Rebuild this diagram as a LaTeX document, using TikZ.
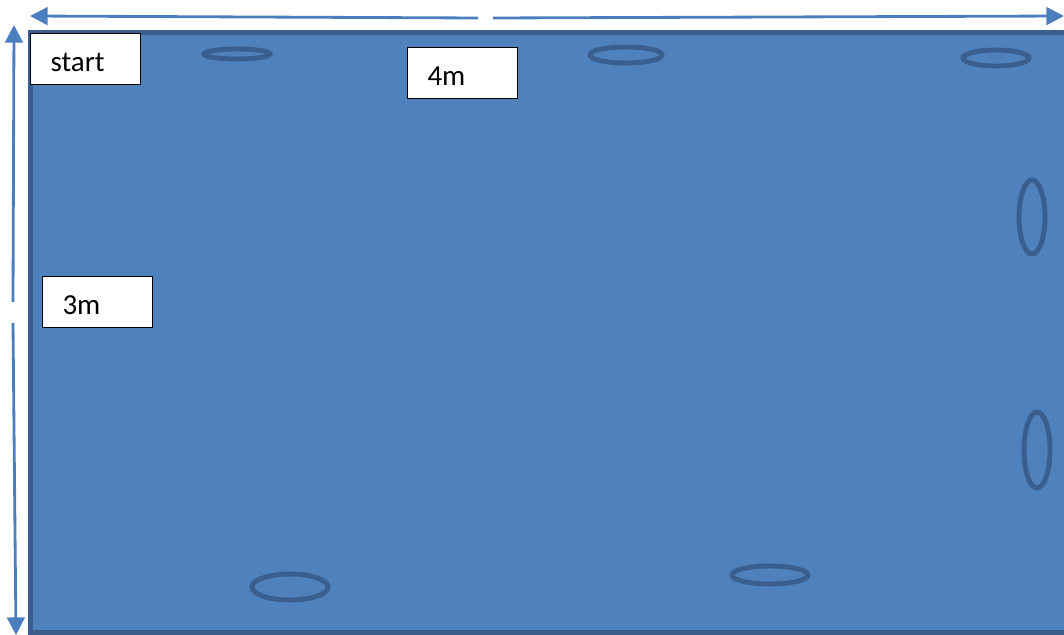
\documentclass[tikz,border=0pt]{standalone}
\usepackage{fontspec}
\setmainfont{Carlito}
\usetikzlibrary{arrows.meta, positioning}
\definecolor{poolblue}{HTML}{4F81BD}
\definecolor{pooledge}{HTML}{3A5F8E}
\definecolor{dimblue}{HTML}{4A7EBF}

\begin{document}
\begin{tikzpicture}[x=0.02cm, y=-0.02cm,
    boxlabel/.style={draw=black, fill=white, line width=0.6pt, minimum width=2.2cm,
        minimum height=1.02cm, inner xsep=0.4cm, text width=1.4cm, align=left,
        text height=14.5pt, text depth=0pt,
        font=\fontsize{16.5}{18}\selectfont, anchor=north west},
    hoop/.style={draw=pooledge, line width=2.8pt},
    dimarrow/.style={color=dimblue, line width=1.6pt, -{Triangle[length=10pt, width=10pt]}}]
    \useasboundingbox (0,0) rectangle (1064,635);
    \begin{scope}
    \clip (0,0) rectangle (1064,635);
    \fill[poolblue] (29,31) rectangle (1070,634);
    \draw[pooledge, line width=2.8pt] (1070,32.5) -- (30.5,32.5) -- (30.5,632.5) -- (1070,632.5);
    \end{scope}

    \node[boxlabel] (start) at (30,33) {start};
    \node[boxlabel] (four) at (407,47) {4m};
    \node[boxlabel] (three) at (42,276) {3m};

    % hoops on the floor
    \draw[hoop] (237,54) ellipse [x radius=33, y radius=5];
    \draw[hoop] (626,55) ellipse [x radius=36, y radius=8];
    \draw[hoop] (996,58) ellipse [x radius=33, y radius=8];
    \draw[hoop] (1032,217) ellipse [x radius=13, y radius=37];
    \draw[hoop] (1037,450) ellipse [x radius=13, y radius=38];
    \draw[hoop] (290,587) ellipse [x radius=38, y radius=13];
    \draw[hoop] (770,575) ellipse [x radius=38, y radius=9];

    % dimension arrows
    \coordinate (wl) at (30,16);
    \coordinate (wm1) at (478,18);
    \coordinate (wm2) at (493,18);
    \coordinate (wr) at (1064,16);
    \coordinate (ht) at (14,25);
    \coordinate (hm1) at (13,302);
    \coordinate (hm2) at (13,323);
    \coordinate (hb) at (16,635);
    \path[dimarrow]
        (wm1) edge (wl)
        (wm2) edge (wr)
        (hm1) edge (ht)
        (hm2) edge (hb);
\end{tikzpicture}
\end{document}
